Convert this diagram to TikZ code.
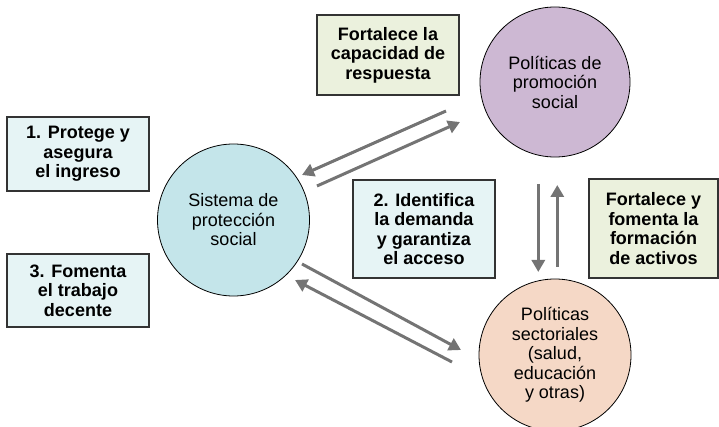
\documentclass[tikz,border=0pt]{standalone}
\usepackage{fontspec}
\setmainfont{Liberation Sans}
\usetikzlibrary{arrows.meta}
\definecolor{boxblue}{HTML}{E6F4F5}
\definecolor{boxgreen}{HTML}{EBF1DD}
\definecolor{circblue}{HTML}{C4E5EA}
\definecolor{circlila}{HTML}{CDB8D3}
\definecolor{circpeach}{HTML}{F5D8C6}
\definecolor{arrgray}{HTML}{747474}
\tikzset{
  txt/.style={align=center,font=\fontsize{18}{19.5}\selectfont},
  accion/.style={txt,draw=black!80,line width=1.3pt,font=\fontsize{18}{19.5}\selectfont\bfseries,inner sep=0pt},
  polit/.style={txt,draw,circle,line width=0.8pt,inner sep=0pt},
  flecha/.style={draw=arrgray,line width=3pt,-{Triangle[length=12pt,width=13pt]}}
}
\begin{document}
\begin{tikzpicture}[x=1pt,y=-1pt]
    \useasboundingbox (0,0) rectangle (719,427);
    % circulos
    \path (233.5,220) node[polit,fill=circblue,minimum size=152pt] (sps) {Sistema de\\protección\\social};
    \path (555,82) node[polit,fill=circlila,minimum size=150pt] (prom) {Políticas de\\promoción\\social};
    \path (555,355) node[polit,fill=circpeach,minimum size=152pt] (sect) {Políticas\\sectoriales\\(salud,\\educación\\y otras)};
    % recuadros
    \path (78,154) node[accion,fill=boxblue,minimum width=142pt,minimum height=74pt] (protege) {1. Protege y\\asegura\\el ingreso};
    \path (78,290.5) node[accion,fill=boxblue,minimum width=142pt,minimum height=73pt] (fomenta) {3. Fomenta\\el trabajo\\decente};
    \path (424,229) node[accion,fill=boxblue,minimum width=142pt,minimum height=98pt] (identifica) {2. Identifica\\la demanda\\y garantiza\\el acceso};
    \path (388,55) node[accion,fill=boxgreen,minimum width=142pt,minimum height=80pt] (capacidad) {Fortalece la\\capacidad de\\respuesta};
    \path (653.5,228.5) node[accion,fill=boxgreen,minimum width=129pt,minimum height=99pt] (activos) {Fortalece y\\fomenta la\\formación\\de activos};
    % extremos de las flechas
    \coordinate (p1) at (446,111);   \coordinate (s1) at (302,175);
    \coordinate (s2) at (317,186);   \coordinate (p2) at (460,122);
    \coordinate (p3) at (538.3,184); \coordinate (t3) at (538.3,272);
    \coordinate (t4) at (557.3,267); \coordinate (p4) at (557.3,185);
    \coordinate (s5) at (302,264);   \coordinate (t5) at (461,350);
    \coordinate (t6) at (452,362);   \coordinate (s6) at (295,280);
    \draw [flecha] (p1) -- (s1);
    \draw [flecha] (s2) -- (p2);
    \draw [flecha] (p3) -- (t3);
    \draw [flecha] (t4) -- (p4);
    \draw [flecha] (s5) -- (t5);
    \draw [flecha] (t6) -- (s6);
\end{tikzpicture}
\end{document}
